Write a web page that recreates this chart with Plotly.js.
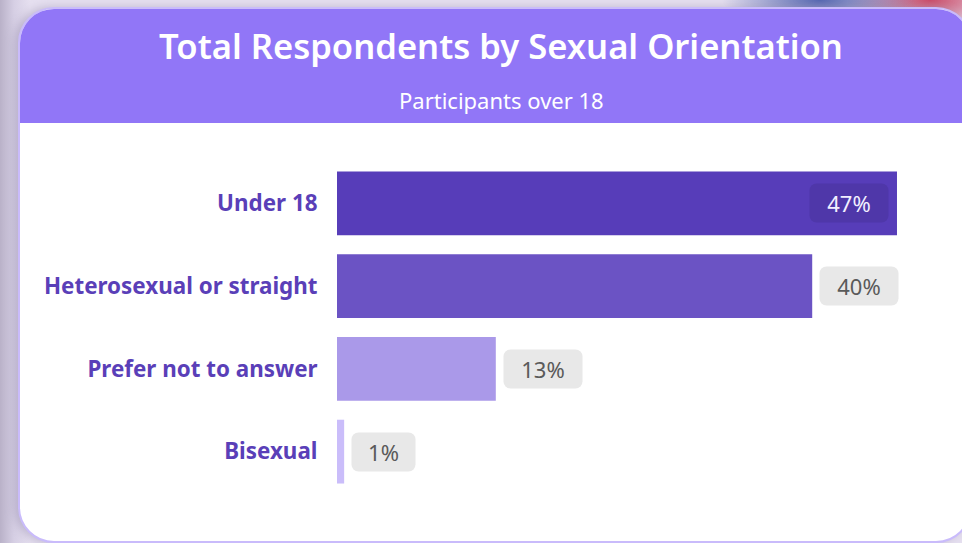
<!DOCTYPE html>
<html>
<head>
<meta charset="utf-8">
<script src="https://cdn.plot.ly/plotly-3.0.1.min.js"></script>
<style>
  html, body { margin: 0; padding: 0; width: 962px; height: 543px; overflow: hidden; }
  body {
    background:
      radial-gradient(ellipse 140px 40px at 820px 0px, rgba(70,90,170,0.9), rgba(0,0,0,0) 70%),
      radial-gradient(ellipse 120px 40px at 930px 0px, rgba(200,60,90,0.9), rgba(0,0,0,0) 70%),
      linear-gradient(90deg, #b9b1c8 0px, #d6cfe4 14px, #e6e0f0 30px);
  }
  #card {
    position: absolute; left: 18px; top: 7px; width: 950px; height: 532px;
    background: #ffffff; border: 2px solid #c9bbfb; border-radius: 36px; overflow: hidden;
    box-shadow: -4px 0 10px rgba(120,110,150,0.35);
  }
  #header { position: absolute; left: 0; top: 0; width: 100%; height: 114px; background: #9176f7; }
  #chart { position: absolute; left: 0; top: 0; width: 962px; height: 543px; }
</style>
</head>
<body>
<div id="card"><div id="header"></div></div>
<div id="chart"></div>
<script>
const categories = ["Under 18", "Heterosexual or straight", "Prefer not to answer", "Bisexual"];
const values = [46.9, 39.8, 13.3, 0.6];
const valueLabels = ["47%", "40%", "13%", "1%"];
const barColors = ["#573db9", "#6b53c4", "#aa99e9", "#cabdfa"];
const titleText = "Total Respondents by Sexual Orientation";
const subtitleText = "Participants over 18";

const FONT = "Segoe UI, 'Noto Sans', 'Open Sans', sans-serif";

const trace = {
  type: "bar",
  orientation: "h",
  y: categories,
  x: values,
  marker: { color: barColors },
  width: 0.771,
  hoverinfo: "none",
  textposition: "none"
};

const annotations = values.map((v, i) => {
  const inside = i === 0;
  return {
    x: v, y: categories[i], xref: "x", yref: "y",
    text: valueLabels[i],
    showarrow: false,
    xanchor: inside ? "right" : "left",
    xshift: inside ? -8 : 7,
    width: 31 + 15 * valueLabels[i].length,
    height: 36,
    bgcolor: inside ? "#4f37a9" : "#e8e8e8",
    font: { family: FONT, size: 22, color: inside ? "#f2efff" : "#5a5a5a" }
  };
});
annotations.push({
  xref: "paper", yref: "paper", x: (501 - 337) / 597, y: (493.5 - 99) / 332,
  xanchor: "center", yanchor: "middle", showarrow: false,
  text: subtitleText,
  font: { family: FONT, size: 22, color: "#ffffff" }
});

const layout = {
  width: 962, height: 543,
  paper_bgcolor: "rgba(0,0,0,0)", plot_bgcolor: "rgba(0,0,0,0)",
  margin: { l: 337, r: 28, t: 161.5, b: 49.5 },
  title: {
    text: titleText, xref: "container", yref: "container",
    x: 501 / 962, y: 1 - 47 / 543, xanchor: "center", yanchor: "middle",
    font: { family: FONT, size: 34.6, color: "#ffffff", weight: 600 }
  },
  xaxis: { range: [0, 50], visible: false, fixedrange: true },
  yaxis: {
    autorange: "reversed", showgrid: false, zeroline: false, showline: false,
    ticks: "outside", ticklen: 14, tickcolor: "rgba(0,0,0,0)",
    tickfont: { family: FONT, size: 22.4, color: "#5a3fb8", weight: "bold" },
    fixedrange: true
  },
  showlegend: false,
  annotations: annotations
};

Plotly.newPlot("chart", [trace], layout, { displayModeBar: false, staticPlot: true }).then(() => {
  document.querySelectorAll("#chart .annotation rect.bg").forEach(r => { r.setAttribute("rx", 7); r.setAttribute("ry", 7); });
});
</script>
</body>
</html>
